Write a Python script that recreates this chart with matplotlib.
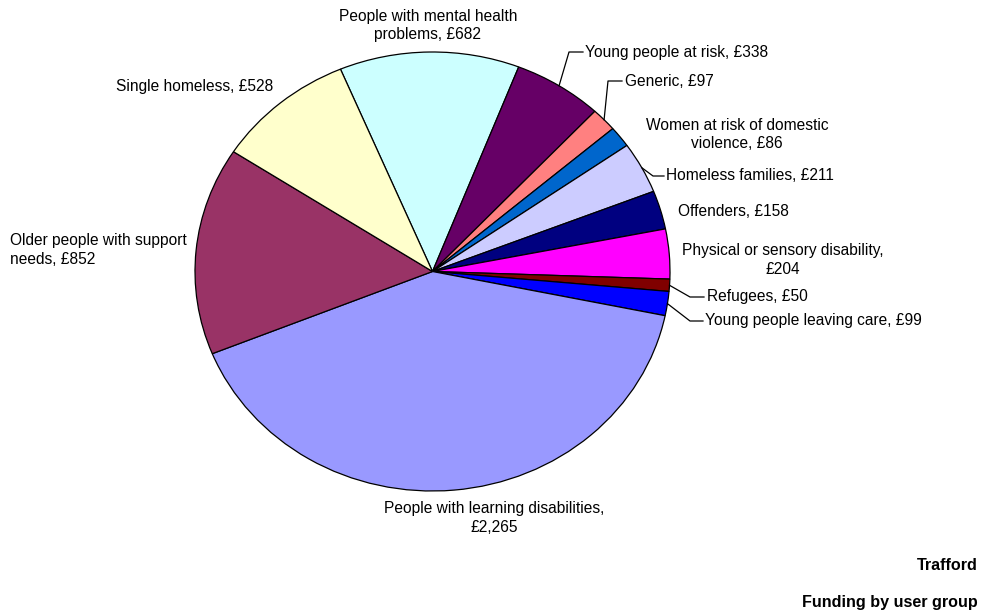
import numpy as np
import matplotlib.pyplot as plt

plt.rcParams['font.family'] = ['Liberation Sans', 'DejaVu Sans']

# funding by user group, clockwise from the top
groups = ['People with mental health\nproblems', 'Young people at risk', 'Generic',
          'Women at risk of domestic\nviolence', 'Homeless families', 'Offenders',
          'Physical or sensory disability,\n', 'Refugees', 'Young people leaving care',
          'People with learning disabilities,\n', 'Older people with support\nneeds',
          'Single homeless']
funding = [682, 338, 97, 86, 211, 158, 204, 50, 99, 2265, 852, 528]
colours = ['#CCFFFF', '#660066', '#FF8080', '#0066CC', '#CCCCFF', '#000080',
           '#FF00FF', '#800000', '#0000FF', '#9999FF', '#993366', '#FFFFCC']

fig = plt.figure(figsize=(9.83, 6.14), dpi=100)
W, H = 983, 614
cx, cy, rx, ry = 432.5, 271.5, 237.5, 219.5
ax = fig.add_axes([(cx - rx) / W, (H - cy - ry) / H, 2 * rx / W, 2 * ry / H])

# mental health straddles the top
start = 90 + 22.8
wedges, _ = ax.pie(funding, colors=colours, startangle=start, counterclock=False,
                   radius=1, wedgeprops=dict(edgecolor='black', linewidth=0.9))
ax.set_aspect('auto')
ax.set_xlim(-1, 1)
ax.set_ylim(-1, 1)

FS = 11.2


def px(x, y):
    # pixel position -> axes data
    return (x - cx) / rx, (cy - y) / ry


def label(i, x, y, ha='left', ma='left', leader=None):
    v = funding[i]
    name = groups[i]
    sep = '' if name.endswith('\n') else ', '
    txt = f'{name}{sep}£{v:,}'
    tx, ty = px(x, y)
    ax.text(tx, ty, txt, ha=ha, va='center', multialignment=ma, fontsize=FS,
            color='black', clip_on=False, linespacing=1.25)
    if leader is not None:
        w = wedges[i]
        mid = np.deg2rad((w.theta1 + w.theta2) / 2)
        ex, ey = np.cos(mid), np.sin(mid)
        pts = [(ex, ey)] + [px(a, b) for a, b in leader]
        xs, ys = zip(*pts)
        ax.plot(xs, ys, color='black', linewidth=0.9, clip_on=False)


label(0, 428, 25, ha='center', ma='center')
label(1, 585, 52, leader=[(569, 52), (583, 52)])
label(2, 625, 81, leader=[(608, 81), (622, 81)])
label(3, 737, 134, ha='center', ma='center')
label(4, 666, 176, leader=[(653, 176), (664, 176)])
label(5, 678, 212)
label(6, 783, 260, ha='center', ma='center')
label(7, 707, 297, leader=[(690, 297), (704, 297)])
label(8, 705, 321, leader=[(690, 321), (703, 321)])
label(9, 494, 518, ha='center', ma='center')
label(10, 10, 250)
label(11, 116, 87)

fig.text(978 / W, 1 - 566 / H, 'Trafford', ha='right', va='center',
         fontsize=11.6, fontweight='bold')
fig.text(978 / W, 1 - 603 / H, 'Funding by user group', ha='right', va='center',
         fontsize=11.6, fontweight='bold')

fig.savefig('out.png', dpi=100)
